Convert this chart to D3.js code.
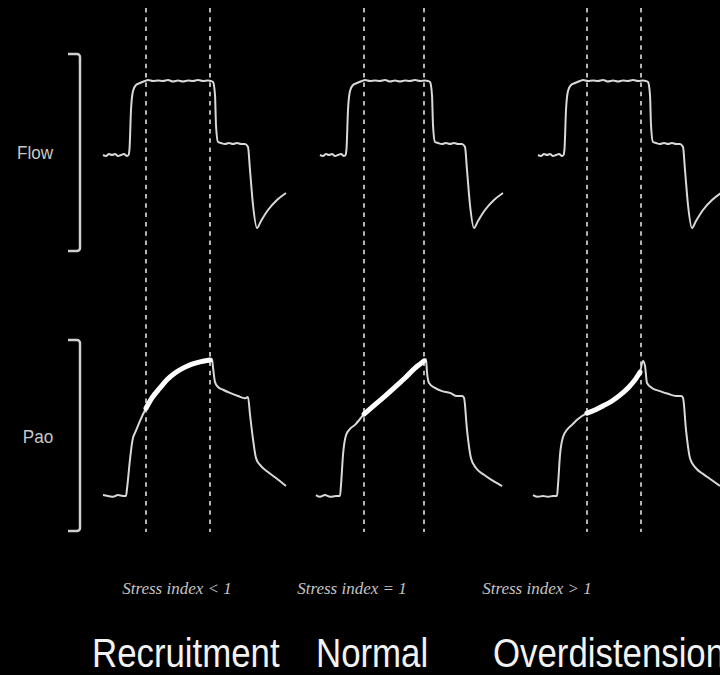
<!DOCTYPE html>
<html>
<head>
<meta charset="utf-8">
<script src="https://cdn.jsdelivr.net/npm/d3@7"></script>
<style>
  html, body { margin: 0; padding: 0; background: #000; }
  svg { display: block; }
</style>
</head>
<body>
<script>
// ---- Data ---------------------------------------------------------------
const panelNames   = ["Recruitment", "Normal", "Overdistension"];
const stressLabels = ["Stress index < 1", "Stress index = 1", "Stress index > 1"];
const channelNames = ["Flow", "Pao"];

// start of each breath on the common time axis (s)
const panelStart = [0, 2.17, 4.35];
// constant-flow window used for the stress index (s, relative to breath start)
const markerTimes = [[0.43, 1.07], [0.44, 1.04], [0.49, 1.03]];

// square-wave inspiratory flow, same breath in all three panels [t (s), flow (L/s)]
const flowTrace = [
  [0.00, 0.00], [0.03, -0.01], [0.06, 0.01], [0.09, 0.00], [0.12, 0.01], [0.15, -0.01],
  [0.18, 0.00], [0.21, 0.01], [0.24, -0.01], [0.255, 0.00], [0.265, 0.06], [0.28, 0.45],
  [0.30, 0.64], [0.33, 0.70], [0.37, 0.72], [0.42, 0.74], [0.45, 0.75], [0.50, 0.74],
  [0.55, 0.745], [0.60, 0.74], [0.65, 0.75], [0.70, 0.735], [0.75, 0.745], [0.80, 0.735],
  [0.85, 0.745], [0.90, 0.74], [0.95, 0.75], [1.00, 0.74], [1.05, 0.745], [1.08, 0.74],
  [1.10, 0.73], [1.12, 0.60], [1.13, 0.30], [1.15, 0.13], [1.18, 0.12], [1.22, 0.11],
  [1.26, 0.12], [1.30, 0.11], [1.34, 0.12], [1.38, 0.11], [1.42, 0.11], [1.45, 0.08],
  [1.47, -0.15], [1.50, -0.50], [1.54, -0.73], [1.58, -0.66], [1.65, -0.55], [1.74, -0.45],
  [1.83, -0.38]
];

// airway opening pressure [t (s), Pao (cmH2O)]
const paoRecruitment = [
  [0.00, 5.1], [0.05, 4.9], [0.10, 4.7], [0.15, 5.1], [0.20, 4.9], [0.23, 4.9],
  [0.24, 6.5], [0.27, 13.0], [0.295, 17.3], [0.33, 19.4], [0.37, 21.6], [0.43, 24.4],
  [0.49, 26.7], [0.57, 28.9], [0.64, 30.7], [0.72, 32.2], [0.80, 33.3], [0.89, 34.2],
  [0.97, 34.7], [1.07, 35.1], [1.09, 35.3], [1.10, 33.5], [1.12, 30.2], [1.15, 29.1],
  [1.20, 28.5], [1.27, 27.8], [1.35, 27.1], [1.42, 26.6], [1.45, 26.9], [1.47, 23.0],
  [1.50, 17.5], [1.53, 13.3], [1.57, 11.8], [1.65, 10.2], [1.73, 8.9], [1.83, 7.1]
];
const paoNormal = [
  [-0.04, 5.1], [0.00, 4.7], [0.05, 5.1], [0.10, 4.7], [0.16, 4.9], [0.20, 4.9],
  [0.21, 7.3], [0.23, 14.0], [0.26, 18.4], [0.30, 19.8], [0.35, 20.7], [0.40, 22.0],
  [0.44, 23.1], [0.55, 25.2], [0.65, 27.1], [0.75, 29.1], [0.85, 31.1], [0.95, 33.3],
  [1.00, 34.2], [1.04, 34.9], [1.06, 35.3], [1.07, 32.4], [1.09, 30.0], [1.15, 28.9],
  [1.22, 28.2], [1.30, 27.8], [1.37, 27.1], [1.42, 27.1], [1.44, 26.7], [1.47, 19.6],
  [1.51, 13.3], [1.56, 11.1], [1.64, 9.6], [1.72, 8.4], [1.82, 7.1]
];
const paoOverdistension = [
  [-0.05, 5.1], [0.00, 4.7], [0.05, 4.9], [0.10, 4.7], [0.15, 4.9], [0.19, 4.9],
  [0.20, 7.3], [0.22, 14.0], [0.25, 18.0], [0.29, 19.6], [0.34, 20.7], [0.40, 22.0],
  [0.49, 23.3], [0.57, 24.0], [0.65, 24.9], [0.74, 26.0], [0.82, 27.3], [0.90, 28.9],
  [0.97, 30.7], [1.02, 32.4], [1.05, 34.9], [1.07, 33.8], [1.09, 30.0], [1.14, 28.9],
  [1.22, 28.2], [1.30, 27.6], [1.38, 27.1], [1.43, 27.1], [1.45, 26.7], [1.48, 19.6],
  [1.52, 13.3], [1.57, 11.3], [1.65, 9.8], [1.74, 8.4], [1.82, 7.1]
];
const paoTraces = [paoRecruitment, paoNormal, paoOverdistension];

// ---- Layout -------------------------------------------------------------
const W = 720, H = 675;
const svg = d3.select("body").append("svg").attr("width", W).attr("height", H)
  .style("background", "#000");

const x = d3.scaleLinear().domain([0, 6.17]).range([103, 720]);
const yFlow = d3.scaleLinear().domain([-1, 1]).range([255, 55]);
const yPao = d3.scaleLinear().domain([0, 40]).range([518, 338]);

const channelBrackets = [[54, 251], [340, 531]];
const channelLabelPos = [[35, 159], [38, 443]];
const stressLabelX = [177, 352, 537];
const panelLabelX = [92, 316, 493];

const traceColor = "#d9d9d9";

// ---- Channel brackets and labels -----------------------------------------
const bracketX = 80, bracketTick = 12, r = 3;
channelBrackets.forEach(([y0, y1], i) => {
  const p = d3.path();
  p.moveTo(bracketX - bracketTick, y0);
  p.arcTo(bracketX, y0, bracketX, y0 + r, r);
  p.lineTo(bracketX, y1 - r);
  p.arcTo(bracketX, y1, bracketX - r, y1, r);
  p.lineTo(bracketX - bracketTick, y1);
  svg.append("path").attr("d", p.toString())
    .attr("fill", "none").attr("stroke", "#d0d0d0").attr("stroke-width", 2.5);

  svg.append("text")
    .attr("transform", `translate(${channelLabelPos[i][0]},${channelLabelPos[i][1]}) scale(0.9,1)`)
    .attr("text-anchor", "middle")
    .attr("font-family", "'Liberation Sans', Arial, sans-serif")
    .attr("font-size", 19)
    .attr("fill", "#c8c8c8")
    .text(channelNames[i]);
});

// ---- Dashed markers -------------------------------------------------------
markerTimes.forEach((m, i) => {
  m.forEach(t => {
    svg.append("line")
      .attr("x1", x(panelStart[i] + t)).attr("x2", x(panelStart[i] + t))
      .attr("y1", 8).attr("y2", 532)
      .attr("stroke", "#b4b4b4").attr("stroke-width", 2)
      .attr("stroke-dasharray", "4.5 4.8");
  });
});

// ---- Traces ----------------------------------------------------------------
panelNames.forEach((name, i) => {
  const t0 = panelStart[i];
  const flowLine = d3.line()
    .x(d => x(t0 + d[0])).y(d => yFlow(d[1]))
    .curve(d3.curveMonotoneX);
  const paoLine = d3.line()
    .x(d => x(t0 + d[0])).y(d => yPao(d[1]))
    .curve(d3.curveMonotoneX);

  svg.append("path").datum(flowTrace).attr("d", flowLine)
    .attr("fill", "none").attr("stroke", traceColor).attr("stroke-width", 2)
    .attr("stroke-linejoin", "round");

  svg.append("path").datum(paoTraces[i]).attr("d", paoLine)
    .attr("fill", "none").attr("stroke", traceColor).attr("stroke-width", 2)
    .attr("stroke-linejoin", "round");

  // pressure during constant flow, highlighted
  const [m0, m1] = markerTimes[i];
  const seg = paoTraces[i].filter(d => d[0] >= m0 - 0.001 && d[0] <= m1 + 0.001);
  svg.append("path").datum(seg).attr("d", paoLine)
    .attr("fill", "none").attr("stroke", "#ffffff").attr("stroke-width", 5)
    .attr("stroke-linecap", "round").attr("stroke-linejoin", "round");

  // stress index caption
  svg.append("text")
    .attr("x", stressLabelX[i]).attr("y", 594)
    .attr("text-anchor", "middle")
    .attr("font-family", "'Liberation Serif', 'Times New Roman', serif")
    .attr("font-style", "italic")
    .attr("font-size", 17)
    .attr("fill", "#c4c4c4")
    .text(stressLabels[i]);

  // panel title
  svg.append("text")
    .attr("transform", `translate(${panelLabelX[i]},667) scale(0.87,1)`)
    .attr("font-family", "'Liberation Sans', Arial, sans-serif")
    .attr("font-size", 40)
    .attr("fill", "#f2f2f2")
    .text(name);
});
</script>
</body>
</html>
